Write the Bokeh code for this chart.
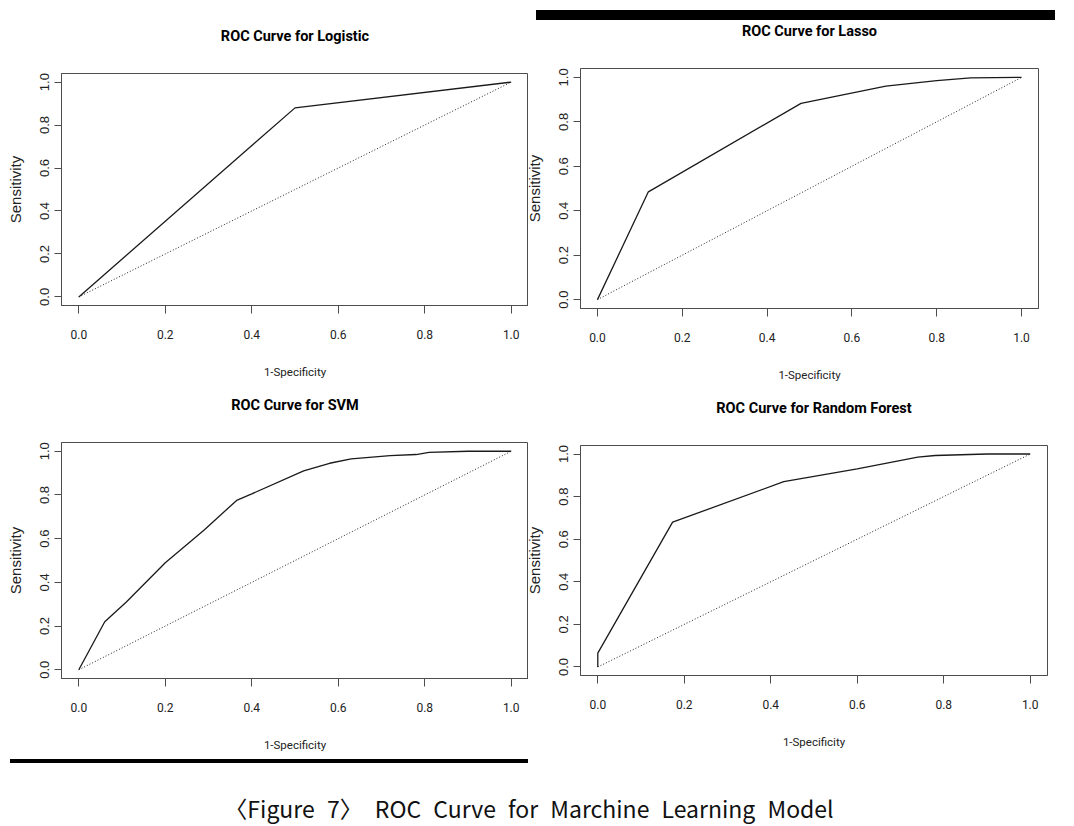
from bokeh.plotting import figure
from bokeh.models import FixedTicker, PrintfTickFormatter, Div, Range1d
from bokeh.layouts import row, column
from bokeh.embed import file_html
from bokeh.resources import INLINE

# ---------------- data ----------------
titles = ["ROC Curve for Logistic", "ROC Curve for Lasso",
          "ROC Curve for SVM", "ROC Curve for Random Forest"]

logit_fpr = [0.0, 0.50, 1.0]
logit_tpr = [0.0, 0.88, 1.0]

lasso_fpr = [0.0, 0.12, 0.48, 0.68, 0.80, 0.88, 1.0]
lasso_tpr = [0.0, 0.485, 0.883, 0.961, 0.985, 0.998, 1.0]

svm_fpr = [0.0, 0.06, 0.11, 0.20, 0.29, 0.365, 0.40, 0.52, 0.58, 0.63, 0.72, 0.78, 0.81, 0.90, 1.0]
svm_tpr = [0.0, 0.22, 0.31, 0.49, 0.64, 0.775, 0.805, 0.91, 0.945, 0.965, 0.980, 0.985, 0.995, 1.0, 1.0]

rf_fpr = [0.0, 0.0, 0.173, 0.43, 0.60, 0.74, 0.78, 0.90, 1.0]
rf_tpr = [0.0, 0.065, 0.68, 0.87, 0.93, 0.985, 0.993, 1.0, 1.0]

diag_x = [0.0, 1.0]
diag_y = [0.0, 1.0]

ticks = [0.0, 0.2, 0.4, 0.6, 0.8, 1.0]
x_label = "1-Specificity"
y_label = "Sensitivity"
caption = "〈Figure 7〉 ROC Curve for Marchine Learning Model"

NARROW = "Roboto, 'Liberation Sans', sans-serif"
REGULAR = "'Liberation Sans', Arial, sans-serif"
GREY = "#4d4d4d"

B_LEFT = 61
B_TOP = 80


def make_panel(title, fpr, tpr, frame_h, right, bottom, margin):
    p = figure(frame_width=467, frame_height=frame_h,
               x_range=Range1d(-0.04, 1.04), y_range=Range1d(-0.04, 1.04),
               output_backend="svg", toolbar_location=None,
               min_border_left=B_LEFT, min_border_right=right,
               min_border_top=B_TOP, min_border_bottom=bottom,
               title=title, background_fill_color="white",
               border_fill_alpha=0.0)
    p.margin = margin
    p.grid.visible = False
    p.outline_line_color = GREY
    p.outline_line_width = 1

    p.title.align = "center"
    p.title.text_font = NARROW
    p.title.text_font_size = "14.5px"
    p.title.text_font_style = "bold"
    p.title.text_color = "black"
    p.title.standoff = 57

    p.line(diag_x, diag_y, line_color="#222222", line_width=1, line_dash="1 2")
    p.line(fpr, tpr, line_color="#1a1a1a", line_width=1.3)

    for ax in (p.xaxis[0], p.yaxis[0]):
        ax.ticker = FixedTicker(ticks=ticks)
        ax.formatter = PrintfTickFormatter(format="%.1f")
        ax.major_tick_in = 0
        ax.minor_tick_in = 0
        ax.minor_tick_out = 0
        ax.axis_line_color = GREY
        ax.major_tick_line_color = GREY
        ax.major_label_text_color = "#222222"
        ax.axis_label_text_color = "#222222"
        ax.axis_label_text_font_style = "normal"

    xa = p.xaxis[0]
    xa.major_tick_out = 8
    xa.major_label_standoff = 16
    xa.major_label_text_font = NARROW
    xa.major_label_text_font_size = "12px"
    xa.axis_label = x_label
    xa.axis_label_text_font = NARROW
    xa.axis_label_text_font_size = "11.5px"
    xa.axis_label_standoff = 23

    ya = p.yaxis[0]
    ya.major_tick_out = 7
    ya.major_label_standoff = 5
    ya.major_label_orientation = "vertical"
    ya.major_label_text_font = REGULAR
    ya.major_label_text_font_size = "13px"
    ya.axis_label = y_label
    ya.axis_label_text_font = REGULAR
    ya.axis_label_text_font_size = "15px"
    ya.axis_label_standoff = 14
    return p


# frames (page px): Logistic 61..528 x 73..305, Lasso 580..1047 x 68..308,
#                   SVM 61..528 x 442..678, RF 580..1047 x 445..675
p1 = make_panel(titles[0], logit_fpr, logit_tpr, 232, 0, 87, (-7, 0, 0, 0))
p2 = make_panel(titles[1], lasso_fpr, lasso_tpr, 240, 19, 84, (-32, 0, 0, -9))
p3 = make_panel(titles[2], svm_fpr, svm_tpr, 236, 0, 81, (-30, 0, 0, 0))
p4 = make_panel(titles[3], rf_fpr, rf_tpr, 230, 19, 95, (-27, 0, 0, -9))

bar_top = Div(text="", width=519, height=10, margin=(10, 0, 0, 8),
              styles={"background-color": "black"})
bar_bottom = Div(text="", width=518, height=4, margin=(0, 0, 7, 10),
                 styles={"background-color": "black"})

cap = Div(text=('<div style="font-family:\'Noto Sans CJK KR\', sans-serif; font-size:23px; '
                'color:#111; text-align:center; word-spacing:7px; line-height:24px; '
                'padding-top:26px; width:1058px;">' + caption + '</div>'),
          width=1058, height=48, margin=(0, 0, 0, 0))

top_row = row(p1, column(bar_top, p2, spacing=0, margin=0), spacing=0, margin=0)
bottom_row = row(column(p3, bar_bottom, spacing=0, margin=0), p4, spacing=0, margin=0)
layout = column(top_row, bottom_row, cap, spacing=0, margin=0)

open("out.html", "w").write(file_html(layout, INLINE))
